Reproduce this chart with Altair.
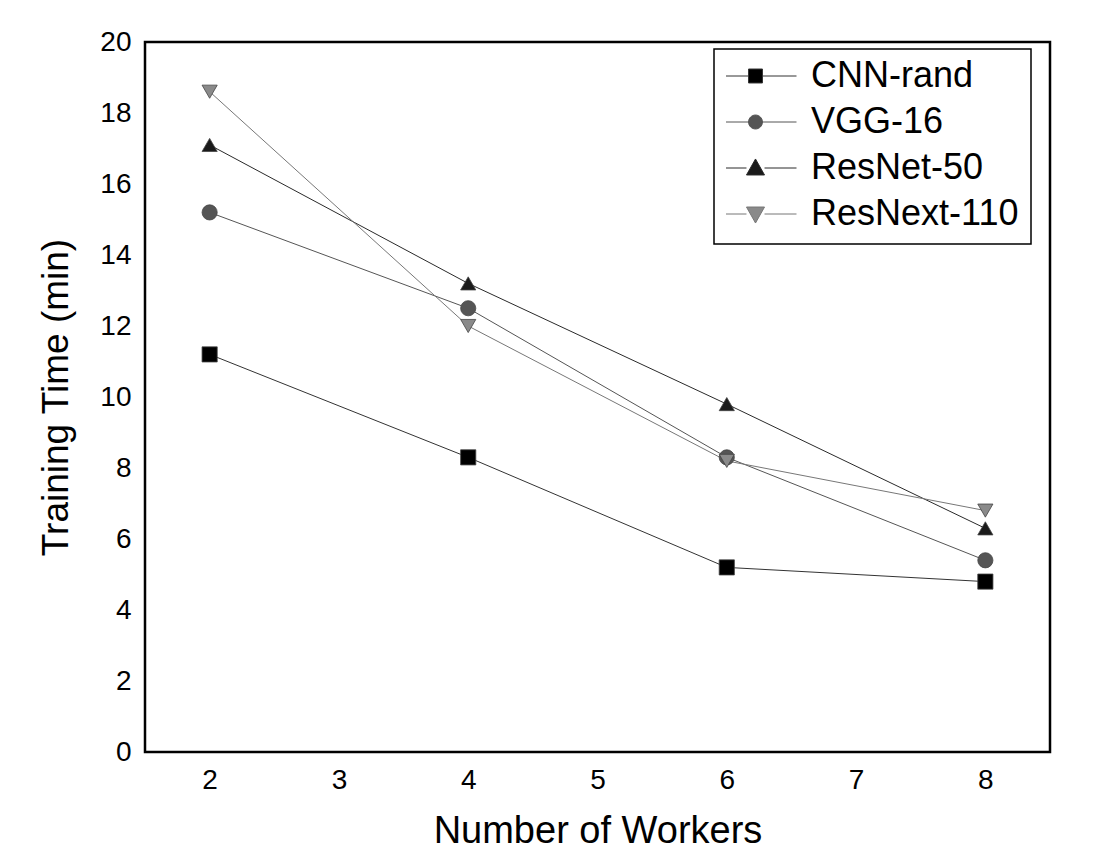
import altair as alt
import pandas as pd

workers = [2, 4, 6, 8]
models = ["CNN-rand", "VGG-16", "ResNet-50", "ResNext-110"]
cnn_rand = [11.2, 8.3, 5.2, 4.8]
vgg_16 = [15.2, 12.5, 8.3, 5.4]
resnet_50 = [17.1, 13.2, 9.8, 6.3]
resnext_110 = [18.6, 12.0, 8.2, 6.8]

series = {"CNN-rand": cnn_rand, "VGG-16": vgg_16, "ResNet-50": resnet_50, "ResNext-110": resnext_110}
rows = []
for m in models:
    for w, v in zip(workers, series[m]):
        rows.append({"model": m, "workers": w, "time": v})
df = pd.DataFrame(rows)

fill_colors = ["#000000", "#555555", "#1a1a1a", "#8a8a8a"]
line_colors = ["#333333", "#555555", "#2a2a2a", "#777777"]
marker_shapes = ["square", "circle", "triangle-up", "triangle-down"]

s = 0.17
t = 0.22
legend_paths = [
    f"M-1,0H-{s}M{s},0H1M-{s},-{s}H{s}V{s}H-{s}Z",
    f"M-1,0H-{s}M{s},0H1M-{s},0A{s},{s} 0 1,0 {s},0A{s},{s} 0 1,0 -{s},0Z",
    f"M-1,0H-{t}M{t},0H1M0,-{t}L{t},{s}H-{t}Z",
    f"M-1,0H-{t}M{t},0H1M0,{t}L{t},-{s}H-{t}Z",
]

font = "Liberation Sans"

x_enc = alt.X("workers:Q", scale=alt.Scale(domain=[1.5, 8.5], nice=False, zero=False),
              axis=alt.Axis(values=[2, 3, 4, 5, 6, 7, 8], title="Number of Workers",
                            titlePadding=18, titleFontSize=38))
y_enc = alt.Y("time:Q", scale=alt.Scale(domain=[0, 20], nice=False),
              axis=alt.Axis(values=list(range(0, 21, 2)), title="Training Time (min)",
                            titlePadding=24))

base = alt.Chart(df)

lines = base.mark_line(strokeWidth=1).encode(
    x=x_enc, y=y_enc,
    stroke=alt.Stroke("model:N", scale=alt.Scale(domain=models, range=line_colors), legend=None),
    detail="model:N",
)

points = base.mark_point(filled=True, size=230, opacity=1, strokeWidth=0.8, stroke="#444444").encode(
    x=x_enc, y=y_enc,
    fill=alt.Fill("model:N", scale=alt.Scale(domain=models, range=fill_colors), legend=None),
    shape=alt.Shape("model:N", scale=alt.Scale(domain=models, range=marker_shapes), legend=None),
)

legend_layer = alt.Chart(df).transform_filter("false").mark_point(
    filled=True, size=6724, opacity=1, strokeWidth=1
).encode(
    fill=alt.Fill("model:N", scale=alt.Scale(domain=models, range=fill_colors),
                  legend=alt.Legend(title=None)),
    stroke=alt.Stroke("model:N", scale=alt.Scale(domain=models, range=line_colors),
                      legend=alt.Legend(title=None)),
    shape=alt.Shape("model:N", scale=alt.Scale(domain=models, range=legend_paths),
                    legend=alt.Legend(title=None)),
)

chart = alt.layer(lines, points, legend_layer).resolve_scale(
    shape="independent", fill="independent", stroke="independent"
).properties(
    width=905, height=710,
    autosize=alt.AutoSizeParams(type="none"),
    padding={"left": 137, "top": 34, "right": 40, "bottom": 110},
).configure_view(
    stroke="black", strokeWidth=2.5
).configure_axis(
    grid=False, ticks=False, domain=False,
    labelFont=font, labelFontSize=28, labelColor="black",
    titleFont=font, titleFontSize=37, titleFontWeight="normal", titleColor="black",
    labelPadding=14,
).configure_legend(
    orient="none", legendX=569, legendY=7,
    labelFont=font, labelFontSize=36, labelColor="black", labelLimit=0,
    symbolSize=6724, symbolStrokeWidth=1,
    clipHeight=30, symbolOffset=-12,
    labelOffset=14, rowPadding=10, padding=12,
    strokeColor="black", strokeWidth=1.5, fillColor="white",
)

chart.save("out.html", embed_options={"renderer": "svg", "actions": False})
